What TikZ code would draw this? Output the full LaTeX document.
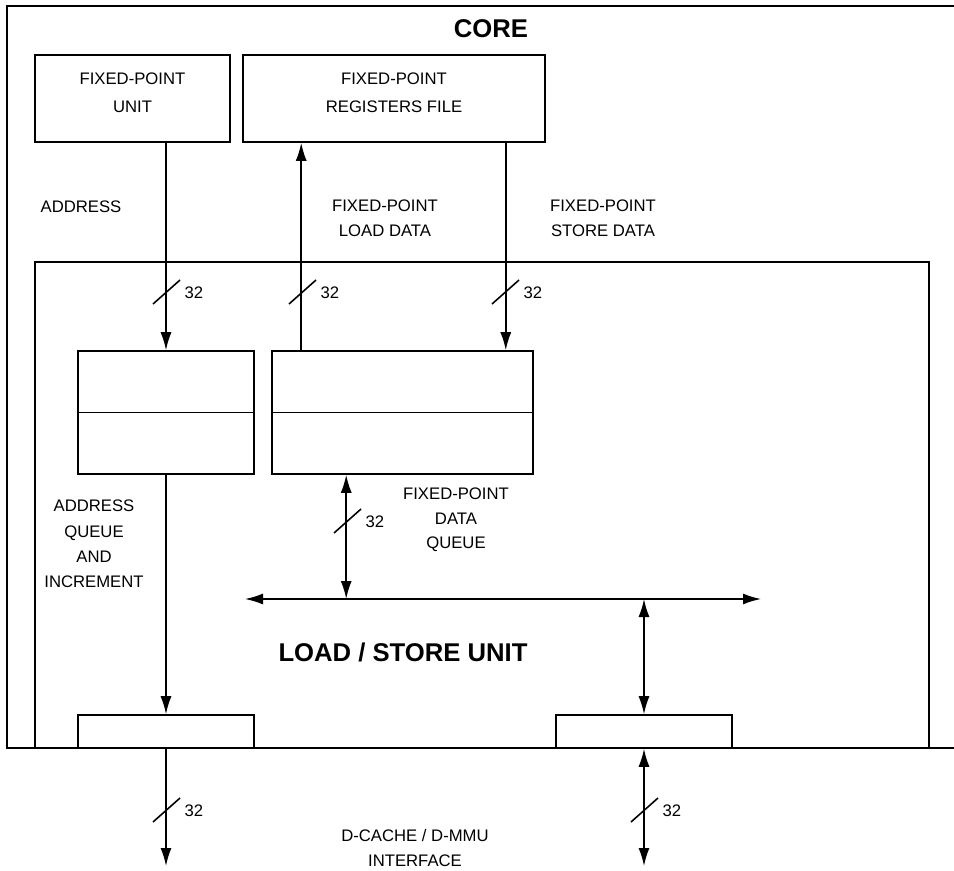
\documentclass[tikz,border=0pt]{standalone}
\usepackage{fontspec}
\setmainfont{Liberation Sans}
\usetikzlibrary{fit, calc, arrows.meta}

\begin{document}
\begin{tikzpicture}[x=0.2mm, y=-0.2mm, line width=0.9pt,
    blocco/.style={draw, inner sep=0pt, align=center, font=\fontsize{9.5}{16}\selectfont},
    testo/.style={align=center, inner sep=1pt, font=\fontsize{9.5}{14}\selectfont},
    titolo/.style={inner sep=1pt, font=\fontsize{14.6}{17}\selectfont\bfseries},
    freccia/.style={-{Latex[length=3.6mm,width=2.2mm]}},
    freccia2/.style={{Latex[length=3.6mm,width=2.2mm]}-{Latex[length=3.6mm,width=2.2mm]}}]
        \useasboundingbox (0,0) rectangle (954,870);
        %riquadro core
        \draw (954,6) -| (7,748) -- (954,748);
        \node[titolo] (core) at (491,29) {CORE};
        %riquadro load/store
        \draw (35,262) rectangle (929,748);
        \node[titolo] (lsu) at (403,652) {LOAD / STORE UNIT};
        %blocchi superiori
        \node[blocco, fit={(35,55) (230,142)}] (fxu) {FIXED-POINT\\UNIT};
        \node[blocco, fit={(243,55) (545,142)}] (fpr) {FIXED-POINT\\REGISTERS FILE};
        %code
        \node[blocco, fit={(78,351) (254,474)}] (aq) {};
        \node[blocco, fit={(272,351) (533,474)}] (dq) {};
        \draw (aq.west) -- (aq.east);
        \draw (dq.west) -- (dq.east);
        %blocchi interfaccia
        \node[blocco, fit={(78,715) (254,748)}] (ib1) {};
        \node[blocco, fit={(556,715) (732,748)}] (ib2) {};
        %bus interno
        \coordinate (busL) at (245,599);
        \coordinate (busR) at (761,599);
        \draw[freccia2] (busL) -- (busR);
        %uscite verso d-cache
        \coordinate (out1) at (166,866);
        \coordinate (out2) at (644,866);
        %frecce
        \draw[freccia] (fxu.south -| aq.north) -- (aq.north);
        \draw[freccia] ([xshift=6mm]dq.north west) -- ([xshift=6mm]dq.north west |- fpr.south);
        \draw[freccia] ([xshift=-5.6mm]dq.north east |- fpr.south) -- ([xshift=-5.6mm]dq.north east);
        \draw[freccia] (aq.south) -- (ib1.north);
        \draw[freccia2] ([xshift=15mm]dq.south west) -- ([xshift=15mm]dq.south west |- busL);
        \draw[freccia2] (ib2.north |- busL) -- (ib2.north);
        \draw[freccia] (ib1.south) -- (out1);
        \draw[freccia2] (ib2.south) -- (out2);
        %bus a 32 bit
        \foreach \x/\y in {166/292, 302/292, 505/292, 347/521, 166/810, 644/810}
            \draw (\x,\y) ++(-13,12) -- ++(27,-24) ++(2,13) node[testo, right] {32};
        %etichette
        \node[testo] (addr) at (81,207) {ADDRESS};
        \node[testo] (ld) at (385,218) {FIXED-POINT\\LOAD DATA};
        \node[testo] (sd) at (603,218) {FIXED-POINT\\STORE DATA};
        \node[testo, font=\fontsize{9.5}{14.5}\selectfont] (aqt) at (94,544) {ADDRESS\\QUEUE\\AND\\INCREMENT};
        \node[testo] (dqt) at (456,520) {FIXED-POINT\\DATA\\QUEUE};
        \node[testo] (dc) at (415,848) {D-CACHE / D-MMU\\INTERFACE};
\end{tikzpicture}
\end{document}
